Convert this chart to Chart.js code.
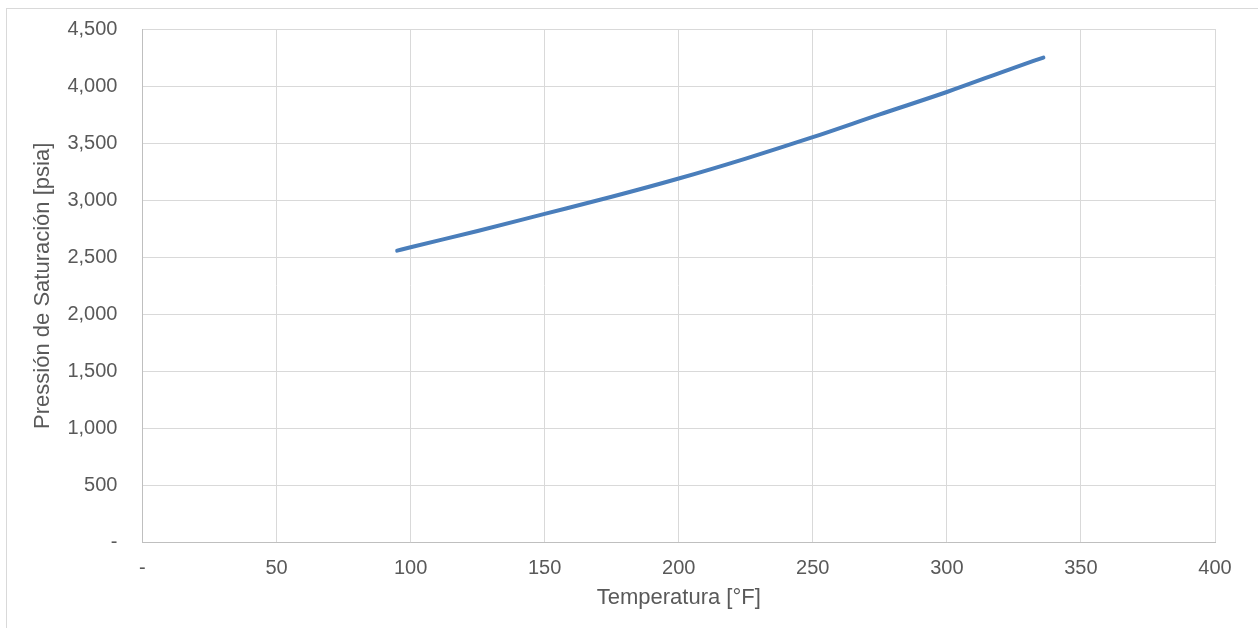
<!DOCTYPE html>
<html>
<head>
<meta charset="utf-8">
<script src="https://cdn.jsdelivr.net/npm/chart.js@4/dist/chart.umd.min.js"></script>
<style>
  html, body { margin: 0; padding: 0; background: #fff; }
  #marco { position: absolute; left: 6px; top: 8px; width: 1260px; height: 630px; border: 1px solid #d9d9d9; box-sizing: border-box; }
  #caja { position: absolute; left: 0; top: 0; width: 1258px; height: 628px; }
</style>
</head>
<body>
<div id="marco"></div>
<div id="caja"><canvas id="grafico" width="1258" height="628"></canvas></div>
<script>
// temperatura [°F] y presion de saturacion [psia]
const temperaturas = [95, 100, 125, 150, 175, 200, 225, 250, 275, 300, 325, 336];
const presiones = [2558, 2588, 2730, 2880, 3030, 3190, 3365, 3552, 3752, 3948, 4160, 4250];

const ticksX = [0, 50, 100, 150, 200, 250, 300, 350, 400];
const ticksY = [0, 500, 1000, 1500, 2000, 2500, 3000, 3500, 4000, 4500];

const gris = '#595959';
const fuente = '"Liberation Sans", Arial, sans-serif';
const formato = v => v === 0 ? '-' : v.toLocaleString('en-US');

const puntos = temperaturas.map((t, i) => ({ x: t, y: presiones[i] }));

new Chart(document.getElementById('grafico'), {
    type: 'scatter',
    data: {
        datasets: [{
            label: 'Pb',
            data: puntos,
            showLine: true,
            borderColor: '#4a7ebb',
            borderWidth: 4,
            pointRadius: 0,
            cubicInterpolationMode: 'monotone',
            borderCapStyle: 'round'
        }]
    },
    options: {
        responsive: false,
        animation: false,
        layout: { padding: { left: 30, right: 43, top: 21, bottom: 17 } },
        plugins: {
            legend: { display: false },
            tooltip: { enabled: false }
        },
        scales: {
            x: {
                type: 'linear',
                min: 0,
                max: 400,
                afterBuildTicks: (eje) => { eje.ticks = ticksX.map(v => ({ value: v })); },
                ticks: {
                    color: gris,
                    font: { family: fuente, size: 20 },
                    padding: 14,
                    callback: formato
                },
                grid: { color: '#d9d9d9', lineWidth: 1, drawTicks: false },
                border: { color: '#bfbfbf', width: 1 },
                title: {
                    display: true,
                    text: 'Temperatura [°F]',
                    color: gris,
                    font: { family: fuente, size: 22 },
                    padding: { top: -10, bottom: 0 }
                }
            },
            y: {
                type: 'linear',
                min: 0,
                max: 4500,
                afterBuildTicks: (eje) => { eje.ticks = ticksY.map(v => ({ value: v })); },
                ticks: {
                    color: gris,
                    font: { family: fuente, size: 20 },
                    padding: 17,
                    callback: formato
                },
                // marcas invisibles: solo separan las etiquetas del eje
                grid: { color: '#d9d9d9', lineWidth: 1, drawTicks: true, tickLength: 8, tickColor: 'rgba(0,0,0,0)' },
                border: { color: '#bfbfbf', width: 1 },
                title: {
                    display: true,
                    text: 'Pressión de Saturación [psia]',
                    color: gris,
                    font: { family: fuente, size: 22 },
                    padding: { top: 0, bottom: -6 }
                }
            }
        }
    }
});
</script>
</body>
</html>
